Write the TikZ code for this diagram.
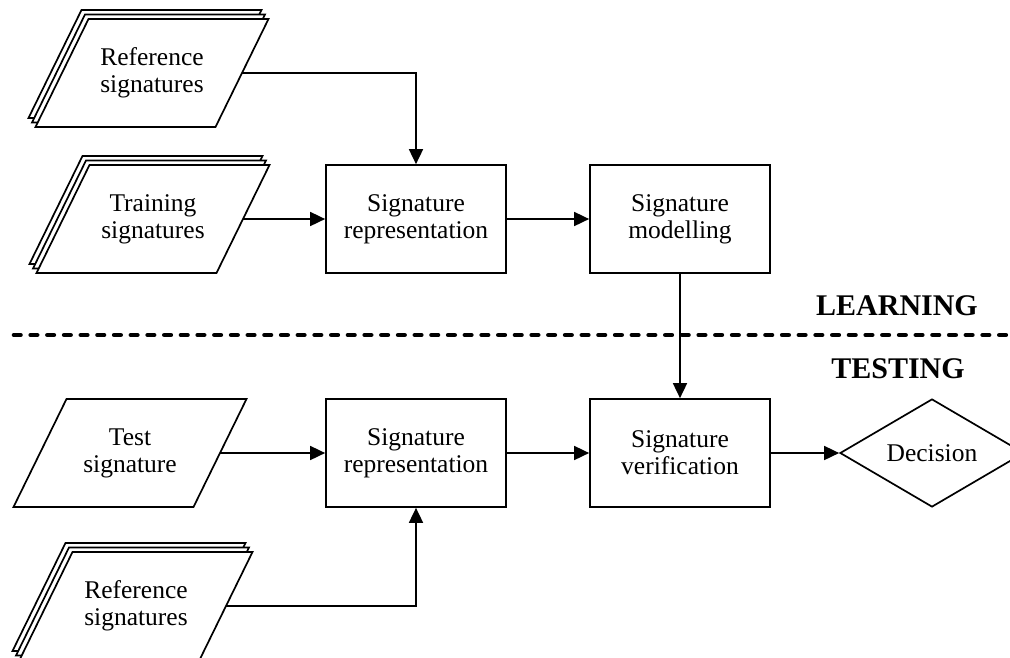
\documentclass[tikz,border=0pt]{standalone}
\usepackage{fontspec}
\setmainfont{Liberation Serif}
\usetikzlibrary{arrows.meta,shapes.geometric}
\newcommand\boxfont{\fontsize{25.5}{27}\selectfont}
\newcommand\bandfont{\fontsize{30}{32}\selectfont\bfseries}
% one slanted data sheet, centred on #1 and shifted by #2
\newcommand\datasheet[2]{%
  \draw[sheet, shift={(#1)}, shift={#2}]
    (-63.5,-54) -- (116.5,-54) -- (63.5,54) -- (-116.5,54) -- cycle;}
% a pile of three sheets
\newcommand\sheetpile[1]{%
  \datasheet{#1}{(-7,-9)}%
  \datasheet{#1}{(-3.5,-4.5)}%
  \datasheet{#1}{(0,0)}}
\begin{document}
\begin{tikzpicture}[x=1pt,y=-1pt,
  stroke/.style={line width=1.7pt},
  stepbox/.style={stroke, draw, rectangle, minimum width=180pt, minimum height=108pt,
    inner sep=0pt, align=center, font=\boxfont},
  datanode/.style={rectangle, minimum width=180pt, minimum height=108pt,
    inner sep=0pt, outer sep=0pt, align=center, font=\boxfont},
  sheet/.style={stroke, draw, fill=white, line join=miter},
  flow/.style={stroke, -{Triangle[length=15pt,width=14pt]}},
  decision/.style={stroke, draw, diamond, minimum width=184pt, minimum height=108pt,
    inner sep=0pt, font=\boxfont},
  band/.style={font=\bandfont, inner sep=0pt},
  divider/.style={line width=4.6pt, line cap=round, dash pattern=on 6.5pt off 10.2pt}
]
\useasboundingbox (0,0) rectangle (1010,657);
\clip (0,0) rectangle (1010,657);

% centres of the input sheets
\coordinate (refAc) at (152,73);
\coordinate (trainc) at (153,219);
\coordinate (testc) at (130,453);
\coordinate (refBc) at (136,606);

\sheetpile{refAc}
\sheetpile{trainc}
\datasheet{testc}{(0,0)}
\sheetpile{refBc}

% inputs
\node[datanode] (refA) at (refAc) {Reference\\signatures};
\node[datanode] (train) at (trainc) {Training\\signatures};
\node[datanode] (test) at (testc) {Test\\signature};
\node[datanode] (refB) at (refBc) {Reference\\signatures};

% processing steps
\node[stepbox] (repA) at (416,219) {Signature\\representation};
\node[stepbox] (model) at (680,219) {Signature\\modelling};
\node[stepbox] (repB) at (416,453) {Signature\\representation};
\node[stepbox] (verify) at (680,453) {Signature\\verification};
\node[decision] (decide) at (932,453) {Decision};

% phase labels and divider
\node[band] (learn) at (897,306) {LEARNING};
\node[band] (testing) at (898,369) {TESTING};
\coordinate (divL) at (14,335);
\coordinate (divR) at (1014,335);
\draw[divider] (divL) -- (divR);

% flow
\draw[flow] (refA.east) -| (repA.north);
\draw[flow] (train.east) -- (repA.west);
\draw[flow] (repA.east) -- (model.west);
\draw[flow] (model.south) -- (verify.north);
\draw[flow] (test.east) -- (repB.west);
\draw[flow] (repB.east) -- (verify.west);
\draw[flow] (verify.east) -- (decide.west);
\draw[flow] (refB.east) -| (repB.south);
\end{tikzpicture}
\end{document}
